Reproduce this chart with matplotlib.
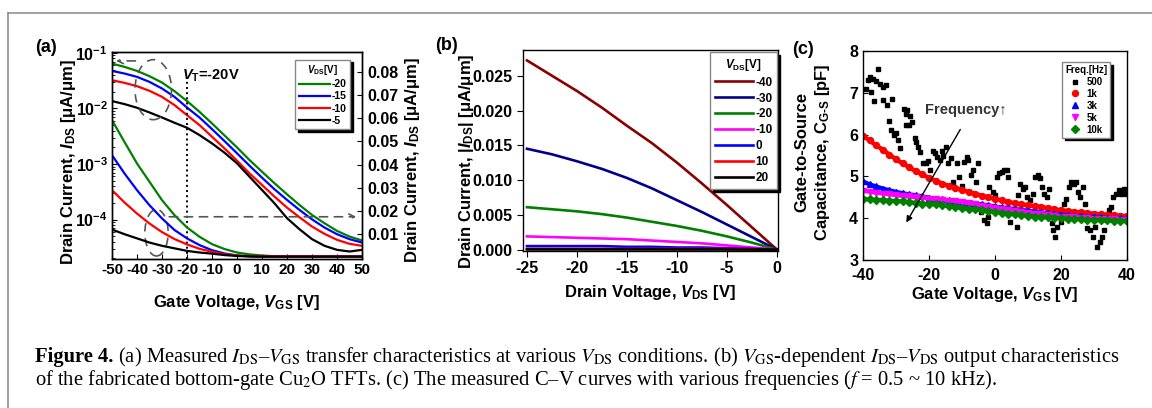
import matplotlib
matplotlib.use('Agg')
import matplotlib.pyplot as plt
from matplotlib.patches import Ellipse
from matplotlib.lines import Line2D
from matplotlib.ticker import FormatStrFormatter

# ---------------- data ----------------
# (a) transfer curves, V_GS sweep
vgs = [-50, -45, -40, -35, -30, -25, -20, -15, -10, -5, 0, 5, 10, 15, 20, 25, 30, 35, 40, 45, 50]
# log branch (left axis)
ids_log_m20 = [6.43e-2, 5.61e-2, 4.75e-2, 3.81e-2, 2.93e-2, 2.05e-2, 1.36e-2, 8.71e-3, 5.38e-3, 3.27e-3, 1.99e-3,
               1.18e-3, 7.28e-4, 4.50e-4, 2.85e-4, 1.83e-4, 1.21e-4, 8.59e-5, 6.25e-5, 4.95e-5, 4.20e-5]
ids_log_m15 = [4.75e-2, 4.26e-2, 3.71e-2, 3.01e-2, 2.29e-2, 1.62e-2, 1.04e-2, 6.89e-3, 4.25e-3, 2.59e-3, 1.56e-3,
               9.34e-4, 5.68e-4, 3.51e-4, 2.26e-4, 1.49e-4, 1.01e-4, 7.18e-5, 5.45e-5, 4.44e-5, 3.86e-5]
ids_log_m10 = [3.23e-2, 2.89e-2, 2.52e-2, 2.08e-2, 1.62e-2, 1.15e-2, 7.59e-3, 5.02e-3, 3.10e-3, 1.91e-3, 1.15e-3,
               6.79e-4, 4.20e-4, 2.59e-4, 1.64e-4, 1.10e-4, 7.49e-5, 5.53e-5, 4.32e-5, 3.66e-5, 3.37e-5]
ids_log_m5 = [1.36e-2, 1.20e-2, 1.03e-2, 8.48e-3, 6.89e-3, 5.53e-3, 4.50e-3, 3.32e-3, 2.35e-3, 1.60e-3, 1.03e-3,
              5.92e-4, 3.41e-4, 1.96e-4, 1.06e-4, 6.70e-5, 4.44e-5, 3.37e-5, 2.85e-5, 2.66e-5, 2.85e-5]
# linear branch (right axis)
ids_lin_m20 = [0.0592, 0.0498, 0.0405, 0.0326, 0.0247, 0.0182, 0.0129, 0.0089, 0.0057, 0.0036, 0.0021,
               0.0013, 0.0008, 0.0005, 0.0004, 0.0004, 0.0004, 0.0004, 0.0004, 0.0004, 0.0004]
ids_lin_m15 = [0.0441, 0.0362, 0.0290, 0.0225, 0.0168, 0.0118, 0.0082, 0.0053, 0.0031, 0.0017, 0.0008,
               0.0005, 0.0004, 0.0004, 0.0004, 0.0004, 0.0004, 0.0004, 0.0004, 0.0004, 0.0004]
ids_lin_m10 = [0.0290, 0.0237, 0.0189, 0.0146, 0.0109, 0.0079, 0.0056, 0.0037, 0.0024, 0.0014, 0.0008,
               0.0005, 0.0004, 0.0004, 0.0004, 0.0004, 0.0004, 0.0004, 0.0004, 0.0004, 0.0004]
ids_lin_m5 = [0.0120, 0.0100, 0.0082, 0.0064, 0.0050, 0.0039, 0.0028, 0.0021, 0.0016, 0.0010, 0.0006,
              0.0004, 0.0003, 0.0003, 0.0003, 0.0003, 0.0003, 0.0003, 0.0003, 0.0003, 0.0003]
labels_a = ['-20', '-15', '-10', '-5']
colors_a = ['#008000', '#0000ff', '#ff0000', '#000000']

# (b) output curves, V_DS sweep
vds = [-25, -22.5, -20, -17.5, -15, -12.5, -10, -7.5, -5, -2.5, 0]
id_m40 = [0.0272, 0.0250, 0.0228, 0.0204, 0.0178, 0.0153, 0.0125, 0.0095, 0.0064, 0.0032, 0.0]
id_m30 = [0.0145, 0.0137, 0.0127, 0.0116, 0.0103, 0.0088, 0.0071, 0.0054, 0.0036, 0.0018, 0.0]
id_m20 = [0.0061, 0.0058, 0.0055, 0.0051, 0.0046, 0.0040, 0.0034, 0.0027, 0.0019, 0.0010, 0.0]
id_m10 = [0.0019, 0.0018, 0.0017, 0.0016, 0.0015, 0.0013, 0.0011, 0.0009, 0.0006, 0.0003, 0.0]
id_0 = [0.0005, 0.0005, 0.0005, 0.0005, 0.0004, 0.0004, 0.0003, 0.0003, 0.0002, 0.0001, 0.0]
id_10 = [0.0001, 0.0001, 0.0001, 0.0001, 0.0001, 0.0001, 0.0001, 0.0001, 0.0001, 0.00005, 0.0]
id_20 = [0.00003, 0.00003, 0.00003, 0.00003, 0.00003, 0.00003, 0.00002, 0.00002, 0.00002, 0.00001, 0.0]
labels_b = ['-40', '-30', '-20', '-10', '0', '10', '20']
colors_b = ['#8b0000', '#00008b', '#008000', '#ff00ff', '#0000ff', '#ff0000', '#000000']

# (c) C-V curves
vcv = [-40, -38, -36, -34, -32, -30, -28, -26, -24, -22, -20, -18, -16, -14, -12, -10, -8, -6, -4, -2,
       0, 2, 4, 6, 8, 10, 12, 14, 16, 18, 20, 22, 24, 26, 28, 30, 32, 34, 36, 38, 40]
c_1k = [5.97, 5.86, 5.74, 5.64, 5.52, 5.41, 5.31, 5.22, 5.12, 5.05, 4.96, 4.90, 4.83, 4.77, 4.72, 4.67, 4.63,
        4.58, 4.54, 4.50, 4.46, 4.43, 4.39, 4.36, 4.33, 4.31, 4.29, 4.27, 4.24, 4.21, 4.19, 4.17, 4.15, 4.14,
        4.12, 4.11, 4.09, 4.08, 4.07, 4.06, 4.05]
c_3k = [4.88, 4.81, 4.76, 4.71, 4.67, 4.63, 4.60, 4.57, 4.55, 4.52, 4.49, 4.47, 4.45, 4.43, 4.41, 4.39, 4.37,
        4.35, 4.33, 4.31, 4.28, 4.26, 4.24, 4.22, 4.20, 4.18, 4.16, 4.14, 4.12, 4.10, 4.08, 4.07, 4.06, 4.05,
        4.04, 4.03, 4.02, 4.01, 4.00, 4.00, 3.99]
c_5k = [4.66, 4.63, 4.61, 4.59, 4.57, 4.55, 4.53, 4.52, 4.50, 4.49, 4.47, 4.46, 4.44, 4.42, 4.40, 4.38, 4.36,
        4.33, 4.30, 4.27, 4.24, 4.22, 4.20, 4.17, 4.15, 4.13, 4.11, 4.09, 4.07, 4.05, 4.04, 4.03, 4.02, 4.01,
        4.00, 3.99, 3.98, 3.97, 3.97, 3.96, 3.96]
c_10k = [4.46, 4.45, 4.44, 4.43, 4.42, 4.41, 4.40, 4.38, 4.37, 4.35, 4.34, 4.33, 4.31, 4.29, 4.27, 4.25, 4.23,
         4.21, 4.19, 4.17, 4.15, 4.13, 4.11, 4.09, 4.07, 4.06, 4.04, 4.03, 4.02, 4.01, 4.00, 3.99, 3.98, 3.97,
         3.96, 3.96, 3.95, 3.95, 3.94, 3.94, 3.93]
v_500 = [-39.0, -38.5, -37.8, -37.0, -36.2, -35.4, -34.7, -33.9, -33.1, -37.5,
         -36.8, -33.9, -32.7, -31.1, -32.1, -31.4, -30.7, -29.9, -29.4, -28.9,
         -27.6, -27.0, -26.6, -25.8, -25.3, -27.0, -26.2, -24.3, -23.8, -23.3,
         -22.6, -21.8, -21.0, -20.3, -19.7, -18.9, -18.2, -17.5, -16.7, -16.2,
         -15.7, -14.9, -14.2, -13.2, -12.7, -11.6, -10.8, -10.1, -9.4, -8.6,
         -8.1, -7.4, -6.6, -5.8, -5.1, -4.6, -4.1, -3.2, -2.5, -2.0,
         -1.7, -0.7, 0.0, 0.7, 1.3, 2.0, 2.7, 3.5, 4.0, 4.6,
         5.6, 6.6, 7.1, 7.6, 8.4, 9.1, 9.8, 10.6, 11.4, 12.2,
         12.9, 13.5, 14.2, 14.9, 15.7, 16.5, 17.2, 17.7, 18.2, 18.7,
         19.2, 19.9, 20.8, 21.6, 22.3, 23.0, 23.8, 24.4, 25.0, 25.8,
         26.6, 27.3, 28.0, 28.9, 29.7, 30.4, 30.9, 31.7, 32.4, 33.1,
         33.7, 34.4, 35.1, 35.9, 36.7, 37.5, 38.2, 39.0, 39.6]
c_500 = [7.10, 7.30, 7.38, 7.32, 7.28, 7.58, 7.22, 7.14, 7.18, 7.02,
         6.80, 6.82, 6.70, 6.84, 6.33, 6.10, 5.99, 6.03, 5.87, 5.67,
         6.62, 6.50, 6.58, 6.44, 6.30, 6.22, 6.22, 5.91, 5.83, 5.71,
         5.59, 5.31, 5.31, 5.37, 5.15, 5.61, 5.56, 5.47, 5.39, 5.61,
         5.48, 5.71, 5.31, 5.43, 4.87, 5.31, 4.99, 4.77, 5.35, 5.47,
         5.39, 5.03, 5.15, 4.87, 5.33, 4.31, 4.15, 3.96, 3.88, 4.04,
         4.75, 4.63, 4.55, 4.99, 5.09, 5.11, 5.15, 5.15, 4.99, 3.92,
         4.15, 3.80, 4.55, 4.83, 4.69, 4.75, 4.51, 4.43, 4.59, 4.99,
         5.03, 4.95, 4.75, 4.59, 4.51, 4.71, 3.88, 3.72, 3.56, 3.80,
         4.07, 3.92, 4.35, 4.47, 4.75, 4.87, 4.82, 4.87, 4.63, 4.51,
         4.75, 4.35, 3.76, 3.72, 3.56, 3.80, 3.32, 3.44, 3.56, 3.72,
         4.04, 4.19, 4.27, 4.51, 4.59, 4.67, 4.59, 4.71, 4.59]

# ---------------- style ----------------
plt.rcParams['font.family'] = ['Liberation Sans', 'DejaVu Sans']
plt.rcParams['axes.unicode_minus'] = False
plt.rcParams['mathtext.fontset'] = 'custom'
plt.rcParams['mathtext.rm'] = 'Liberation Sans:bold'
plt.rcParams['mathtext.bf'] = 'Liberation Sans:bold'
plt.rcParams['mathtext.it'] = 'Liberation Sans:italic:bold'
plt.rcParams['xtick.labelsize'] = 11.5
plt.rcParams['ytick.labelsize'] = 11.5
plt.rcParams['axes.linewidth'] = 1.0

W, H = 1152, 408
def box(x0, y0, x1, y1):
    return [x0 / W, 1 - y1 / H, (x1 - x0) / W, (y1 - y0) / H]

def fx(x):
    return x / W

def fy(y):
    return 1 - y / H

fig = plt.figure(figsize=(11.52, 4.08), dpi=100)

leg_kw = dict(fancybox=False, edgecolor='#888888', framealpha=1,
              shadow={'color': 'black', 'alpha': 1}, borderaxespad=0)
lab_kw = dict(fontsize=12, weight='bold')

# ---------------- (a) ----------------
ax = fig.add_axes(box(112, 52, 362, 259))
ax2 = ax.twinx()
hs = []
for ylog, ylin, c, lab in zip([ids_log_m20, ids_log_m15, ids_log_m10, ids_log_m5],
                              [ids_lin_m20, ids_lin_m15, ids_lin_m10, ids_lin_m5], colors_a, labels_a):
    h, = ax.semilogy(vgs, ylog, color=c, lw=1.6, label=lab)
    ax2.plot(vgs, ylin, color=c, lw=1.6)
    hs.append(h)
ax.set_xlim(-50, 50)
ax.set_ylim(1.95e-5, 0.104)
ax2.set_ylim(-0.0007, 0.0886)
ax.set_xticks(range(-50, 51, 10))
ax.set_yticks([1e-4, 1e-3, 1e-2, 1e-1])
ax.tick_params(which='both', direction='in', right=False, pad=3)
ax.tick_params(axis='x', labelsize=11)
ax2.set_yticks([0.01, 0.02, 0.03, 0.04, 0.05, 0.06, 0.07, 0.08])
ax2.yaxis.set_major_formatter(FormatStrFormatter('%.2f'))
ax2.tick_params(direction='in', pad=4)

ax.axvline(-20, ymin=0, ymax=0.86, ls=':', color='k', lw=1.4)
ax.text(0.278, 0.887, r'$V_{\mathrm{T}}$=-20V', transform=ax.transAxes, fontsize=10.5,
        weight='bold', va='center', ha='left')
ax2.add_patch(Ellipse((0.165, 0.818), 0.146, 0.29, transform=ax2.transAxes, fill=False,
                      ls=(0, (5, 4)), ec='#555555', lw=1.2))
ax2.add_patch(Ellipse((0.178, 0.127), 0.093, 0.225, transform=ax2.transAxes, fill=False,
                      ls=(0, (5, 4)), ec='#555555', lw=1.2))
ax2.annotate('', xy=(0.005, 0.957), xytext=(0.105, 0.957), xycoords='axes fraction',
             arrowprops=dict(arrowstyle='->', ls=(0, (5, 4)), color='#555555', lw=1.2))
ax2.annotate('', xy=(0.988, 0.204), xytext=(0.218, 0.204), xycoords='axes fraction',
             arrowprops=dict(arrowstyle='->', ls=(0, (5, 4)), color='#555555', lw=1.2))
ax2.legend(hs, labels_a, loc='upper right', bbox_to_anchor=(0.953, 0.963),
           title=r'$V_{\mathrm{DS}}$[V]', prop={'weight': 'bold', 'size': 7.5},
           title_fontproperties={'weight': 'bold', 'size': 7},
           handlelength=3.0, handletextpad=0.15, labelspacing=0.2, borderpad=0.35, **leg_kw)

fig.text(fx(68), fy(162), r'Drain Current, $I_{\mathrm{DS}}$ [$\mathrm{\mu}$A/$\mathrm{\mu}$m]',
         rotation=90, ha='center', va='center', **lab_kw)
fig.text(fx(413), fy(160), r'Drain Current, $I_{\mathrm{DS}}$ [$\mathrm{\mu}$A/$\mathrm{\mu}$m]',
         rotation=90, ha='center', va='center', **lab_kw)
fig.text(fx(237), fy(302), r'Gate Voltage, $V_{\mathrm{GS}}$ [V]', ha='center', va='center', **lab_kw)
fig.text(fx(46), fy(48), '(a)', ha='center', va='center', fontsize=13, weight='bold')

# ---------------- (b) ----------------
bx = fig.add_axes(box(523, 50, 778, 251))
for y, c, lab in zip([id_m40, id_m30, id_m20, id_m10, id_0, id_10, id_20], colors_b, labels_b):
    bx.plot(vds, y, color=c, lw=1.9, label=lab)
bx.set_xlim(-25.4, 0.1)
bx.set_ylim(-0.0002, 0.0287)
bx.set_xticks([-25, -20, -15, -10, -5, 0])
bx.set_yticks([0.0, 0.005, 0.010, 0.015, 0.020, 0.025])
bx.yaxis.set_major_formatter(FormatStrFormatter('%.3f'))
bx.tick_params(direction='out', length=4)
bx.legend(loc='upper right', bbox_to_anchor=(0.997, 0.99), title=r'$V_{\mathrm{DS}}$[V]',
          prop={'weight': 'bold', 'size': 8.5}, title_fontproperties={'weight': 'bold', 'size': 8.5},
          handlelength=3.3, handletextpad=0.15, labelspacing=0.33, borderpad=0.4, **leg_kw)
fig.text(fx(466), fy(161), r'Drain Current, |$I_{\mathrm{DS}}$| [$\mathrm{\mu}$A/$\mathrm{\mu}$m]',
         rotation=90, ha='center', va='center', **lab_kw)
fig.text(fx(650), fy(293), r'Drain Voltage, $V_{\mathrm{DS}}$ [V]', ha='center', va='center', **lab_kw)
fig.text(fx(447), fy(46), '(b)', ha='center', va='center', fontsize=13, weight='bold')

# ---------------- (c) ----------------
cx = fig.add_axes(box(863, 51, 1127, 260))
cx.plot(v_500, c_500, 's', color='black', ms=3.0, label='500')
cx.plot(vcv, c_1k, '-', color='#ff0000', lw=3.2)
cx.plot(vcv, c_1k, 'o', color='#ff0000', ms=4.3, label='1k')
cx.plot(vcv, c_3k, '-', color='#0000ff', lw=3.0)
cx.plot(vcv, c_3k, '^', color='#0000ff', ms=4.3, label='3k')
cx.plot(vcv, c_5k, '-', color='#ff00ff', lw=3.0)
cx.plot(vcv, c_5k, 'v', color='#ff00ff', ms=4.3, label='5k')
cx.plot(vcv, c_10k, '-', color='#008000', lw=3.0)
cx.plot(vcv, c_10k, 'D', color='#008000', ms=3.6, label='10k')
cx.set_xlim(-40, 40)
cx.set_ylim(3, 8)
cx.set_xticks([-40, -20, 0, 20, 40])
cx.set_yticks([3, 4, 5, 6, 7, 8])
cx.tick_params(direction='in')
cx.tick_params(axis='x', pad=5.5)
cx.annotate('', xy=(-27.3, 3.84), xytext=(-10.1, 6.18),
            arrowprops=dict(arrowstyle='-|>', color='black', lw=1.0, mutation_scale=9))
cx.text(-21.3, 6.58, 'Frequency\u2191', fontsize=10.5, weight='bold', ha='left', va='center',
        color='#333333')
cx.legend(loc='upper right', bbox_to_anchor=(0.936, 0.947), title='Freq.[Hz]',
          prop={'weight': 'bold', 'size': 7}, title_fontproperties={'weight': 'bold', 'size': 7},
          handlelength=1.2, handletextpad=0.6, labelspacing=0.2, borderpad=0.3, **leg_kw)
fig.text(fx(813), fy(152), 'Gate-to-Source\n' + r'Capacitance, C$_{\mathrm{G}\text{-}\mathrm{S}}$ [pF]',
         rotation=90, ha='center', va='center', multialignment='center', linespacing=1.3, **lab_kw)
fig.text(fx(995), fy(294), r'Gate Voltage, $V_{\mathrm{GS}}$ [V]', ha='center', va='center', **lab_kw)
fig.text(fx(803), fy(50), '(c)', ha='center', va='center', fontsize=13, weight='bold')

# bold tick labels
for a in (ax, ax2, bx, cx):
    for t in a.get_xticklabels() + a.get_yticklabels():
        t.set_fontweight('bold')

# ---------------- frame + caption ----------------
fig.add_artist(Line2D([fx(8), fx(8)], [0, fy(12.5)], color='#888888', lw=1.1))
fig.add_artist(Line2D([fx(8), 1], [fy(12.5), fy(12.5)], color='#888888', lw=1.1))

line1 = (r' (a) Measured $I_{\mathrm{DS}}$–$V_{\mathrm{GS}}$ transfer characteristics at various '
         r'$V_{\mathrm{DS}}$ conditions. (b) $V_{\mathrm{GS}}$-dependent $I_{\mathrm{DS}}$–$V_{\mathrm{DS}}$ '
         r'output characteristics')
line2 = (r'of the fabricated bottom-gate Cu$_2$O TFTs. (c) The measured C–V curves with various '
         r'frequencies ($f$ = 0.5 ~ 10 kHz).')
cap_kw = dict(family='Liberation Serif', math_fontfamily='stix', va='baseline', fontsize=12)
t1 = fig.text(fx(35), fy(362), 'Figure 4.', weight='bold', **cap_kw)
t2 = fig.text(fx(100), fy(362), line1, weight='normal', **cap_kw)
t3 = fig.text(fx(35), fy(385), line2, weight='normal', **cap_kw)
r = fig.canvas.get_renderer()
for _ in range(3):
    b1 = t1.get_window_extent(r)
    t2.set_x(b1.x1 / W)
    b2 = t2.get_window_extent(r)
    s = (1120 - 35) / (b2.x1 - b1.x0)
    for t in (t1, t2, t3):
        t.set_fontsize(t.get_fontsize() * s)
b1 = t1.get_window_extent(r)
t2.set_x(b1.x1 / W)

fig.savefig('out.png', dpi=100)
